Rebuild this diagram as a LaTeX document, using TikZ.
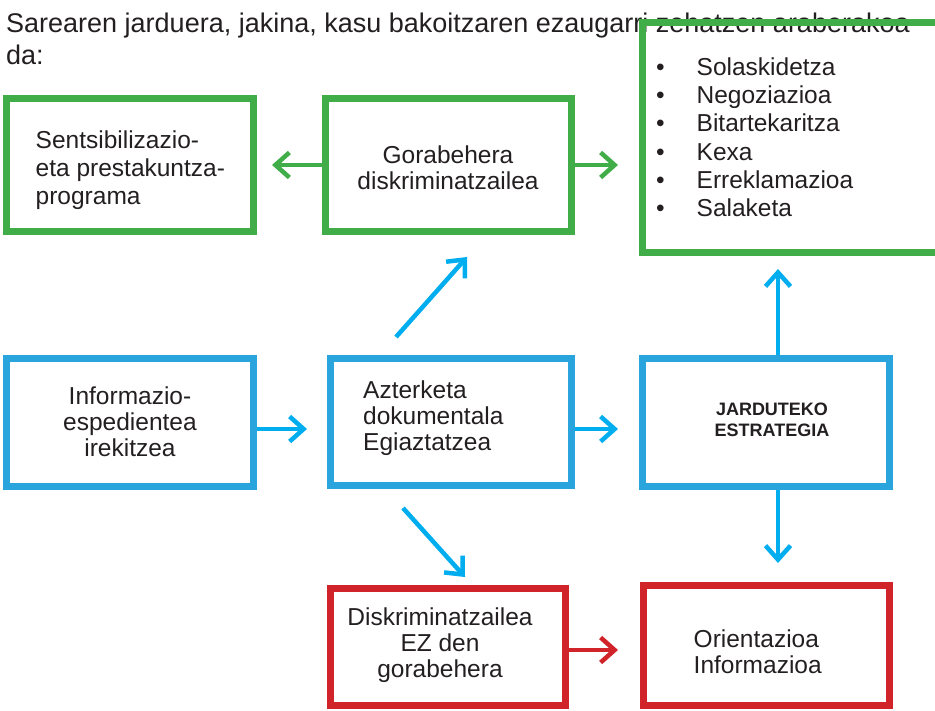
\documentclass[tikz,border=0pt]{standalone}
\usepackage{fontspec}
\setmainfont{Liberation Sans}
\usetikzlibrary{arrows.meta}
\definecolor{vert}{HTML}{40AD48}
\definecolor{bleu}{HTML}{2AA4DD}
\definecolor{fleche}{HTML}{00ADEE}
\definecolor{rouge}{HTML}{D1232A}
\definecolor{texte}{HTML}{231F20}
\begin{document}
\begin{tikzpicture}[x=1pt,y=-1pt,
	boite/.style={draw,line width=7pt,inner sep=0pt},
	txt/.style={text=texte,inner sep=0pt,font=\fontsize{24.5}{26}\selectfont},
	fl/.style={line width=4.5pt,-{Straight Barb[length=14pt,width=25pt]}}]
	\useasboundingbox (0,0) rectangle (935,710);
	\clip (0,0) rectangle (935,710);
	\node[txt,anchor=north west,align=left,font=\fontsize{27}{32}\selectfont] (titre) at (6,12.5) {Sarearen jarduera, jakina, kasu bakoitzaren ezaugarri zehatzen araberakoa\\da:}; % le titre
	% les boites
	\node[boite,vert,minimum width=247pt,minimum height=133pt] (sentsib) at (130,165) {};
	\node[boite,vert,minimum width=246pt,minimum height=133pt] (gorab) at (448.5,165) {};
	\node[boite,vert,minimum width=317.5pt,minimum height=230pt] (zerrenda) at (801.25,137.5) {};
	\node[boite,bleu,minimum width=247pt,minimum height=128pt] (info) at (130,422.5) {};
	\node[boite,bleu,minimum width=241pt,minimum height=127pt] (azterk) at (451,422) {};
	\node[boite,bleu,minimum width=247pt,minimum height=128pt] (estrat) at (766,422.5) {};
	\node[boite,rouge,minimum width=235pt,minimum height=117pt] (ezdiskr) at (448,647) {};
	\node[boite,rouge,minimum width=246pt,minimum height=120pt] (orient) at (766.5,645.5) {};
	% les textes
	\node[txt,anchor=north west,align=left,font=\fontsize{24.5}{28}\selectfont] (tsentsib) at (35.5,131) {Sentsibilizazio-\\eta prestakuntza-\\programa};
	\node[txt,align=center] (tgorab) at (448,168) {Gorabehera\\diskriminatzailea};
	\node[txt,anchor=north west,align=left,font=\fontsize{24.5}{28.2}\selectfont] (tzerrenda) at (656,57.5) {\makebox[40.5pt][l]{•}Solaskidetza\\\makebox[40.5pt][l]{•}Negoziazioa\\\makebox[40.5pt][l]{•}Bitartekaritza\\\makebox[40.5pt][l]{•}Kexa\\\makebox[40.5pt][l]{•}Erreklamazioa\\\makebox[40.5pt][l]{•}Salaketa};
	\node[txt,align=center] (tinfo) at (130,422) {Informazio-\\espedientea\\irekitzea};
	\node[txt,anchor=north west,align=left] (tazterk) at (363,381) {Azterketa\\dokumentala\\Egiaztatzea};
	\node[txt,align=center,font=\fontsize{18}{20.5}\selectfont\bfseries] (testrat) at (772,420) {JARDUTEKO\\ESTRATEGIA};
	\node[txt,align=center] (tezdiskr) at (440,645) {Diskriminatzailea\\EZ den\\gorabehera};
	\node[txt,anchor=north west,align=left,font=\fontsize{24.5}{26.5}\selectfont] (torient) at (693.5,629.5) {Orientazioa\\Informazioa};
	% les fleches
	\coordinate (pg) at (272,165);
	\coordinate (pz) at (618,165);
	\coordinate (d1) at (396,337);
	\coordinate (d2) at (467,257);
	\coordinate (pa) at (307,429);
	\coordinate (pe) at (618,429);
	\coordinate (d3) at (403,508);
	\coordinate (d4) at (465,577);
	\coordinate (pu) at (778,269);
	\coordinate (pb) at (778,563);
	\coordinate (pr) at (618,650);
	\draw[fl,vert] (gorab.west) -- (pg);
	\draw[fl,vert] (gorab.east) -- (pz);
	\draw[fl,fleche] (d1) -- (d2);
	\draw[fl,fleche] (info.east |- pa) -- (pa);
	\draw[fl,fleche] (azterk.east |- pe) -- (pe);
	\draw[fl,fleche] (d3) -- (d4);
	\draw[fl,fleche] (estrat.north -| pu) -- (pu);
	\draw[fl,fleche] (estrat.south -| pb) -- (pb);
	\draw[fl,rouge] (ezdiskr.east |- pr) -- (pr);
\end{tikzpicture}
\end{document}
